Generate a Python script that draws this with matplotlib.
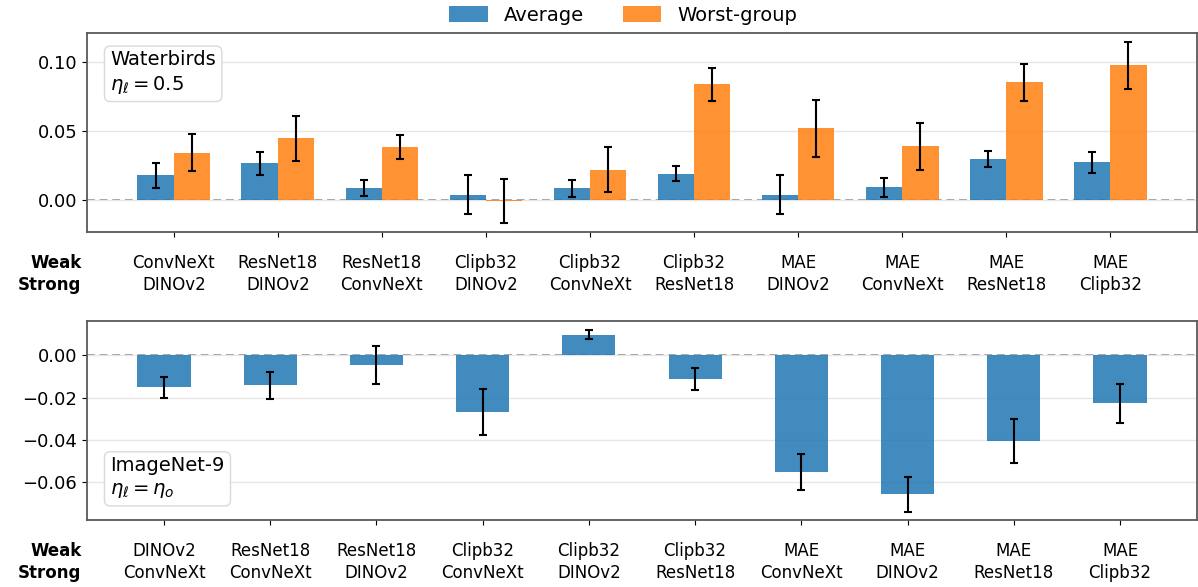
import numpy as np
import matplotlib.pyplot as plt


# Waterbirds (top): weak -> strong pairs
wb_weak = ["ConvNeXt", "ResNet18", "ResNet18", "Clipb32", "Clipb32",
           "Clipb32", "MAE", "MAE", "MAE", "MAE"]
wb_strong = ["DINOv2", "DINOv2", "ConvNeXt", "DINOv2", "ConvNeXt",
             "ResNet18", "DINOv2", "ConvNeXt", "ResNet18", "Clipb32"]
wb_avg = [0.0179, 0.0266, 0.0085, 0.0041, 0.0085, 0.0193, 0.0041, 0.0092, 0.0295, 0.0273]
wb_avg_err = [0.0089, 0.0081, 0.0058, 0.0141, 0.0064, 0.0053, 0.0141, 0.0072, 0.0058, 0.0078]
wb_worst = [0.0345, 0.0447, 0.0382, -0.0005, 0.0222, 0.0838, 0.0519, 0.0389, 0.0852, 0.0976]
wb_worst_err = [0.0137, 0.0165, 0.0087, 0.0162, 0.0160, 0.0122, 0.0204, 0.0173, 0.0135, 0.0169]

# ImageNet-9 (bottom)
in_weak = ["DINOv2", "ResNet18", "ResNet18", "Clipb32", "Clipb32",
           "Clipb32", "MAE", "MAE", "MAE", "MAE"]
in_strong = ["ConvNeXt", "ConvNeXt", "DINOv2", "ConvNeXt", "DINOv2",
             "ResNet18", "ConvNeXt", "DINOv2", "ResNet18", "Clipb32"]
in_avg = [-0.0151, -0.0143, -0.0047, -0.0269, 0.0098, -0.0113, -0.0553, -0.0657, -0.0406, -0.0227]
in_avg_err = [0.0050, 0.0063, 0.0090, 0.0110, 0.0021, 0.0053, 0.0085, 0.0083, 0.0106, 0.0092]

blue = "#1f77b4"
orange = "#ff7f0e"
err_kw = dict(ecolor="black", elinewidth=1.5, capsize=3, capthick=1.5)

fig = plt.figure(figsize=(11.98, 5.87), dpi=100)
ax1 = fig.add_axes([0.0726, 0.6048, 0.9266, 0.339])
ax2 = fig.add_axes([0.0726, 0.1141, 0.9266, 0.339])

# top panel
x = np.arange(len(wb_avg))
w = 0.35
ax1.bar(x - w / 2, wb_avg, w, yerr=wb_avg_err, color=blue, alpha=0.85,
        label="Average", error_kw=err_kw)
ax1.bar(x + w / 2, wb_worst, w, yerr=wb_worst_err, color=orange, alpha=0.85,
        label="Worst-group", error_kw=err_kw)
ax1.set_ylim(-0.023, 0.121)
ax1.set_xticks(x)
ax1.set_xticklabels([a + "\n" + b for a, b in zip(wb_weak, wb_strong)], linespacing=1.35)
ax1.text(0.021, 0.915, "Waterbirds\n$\\eta_\\ell = 0.5$", transform=ax1.transAxes,
         fontsize=14, va="top", ha="left", linespacing=1.3,
         bbox=dict(boxstyle="round,pad=0.3", facecolor="white", edgecolor="0.85"))

# bottom panel
x2 = np.arange(len(in_avg))
ax2.bar(x2, in_avg, 0.5, yerr=in_avg_err, color=blue, alpha=0.85, error_kw=err_kw)
ax2.set_ylim(-0.078, 0.0162)
ax2.set_xticks(x2)
ax2.set_xticklabels([a + "\n" + b for a, b in zip(in_weak, in_strong)], linespacing=1.35)
ax2.text(0.021, 0.1, "ImageNet-9\n$\\eta_\\ell = \\eta_o$", transform=ax2.transAxes,
         fontsize=14, va="bottom", ha="left", linespacing=1.3,
         bbox=dict(boxstyle="round,pad=0.3", facecolor="white", edgecolor="0.85"))

for ax in (ax1, ax2):
    ax.axhline(0, color="0.6", linestyle="--", linewidth=1.4, dashes=(4, 2.5), zorder=0.5)
    ax.yaxis.grid(True, color="0.9", linewidth=1)
    ax.set_axisbelow(True)
    ax.tick_params(axis="y", labelsize=13)
    ax.tick_params(axis="x", labelsize=12, pad=12)
    for s in ax.spines.values():
        s.set_color("0.35")
        s.set_linewidth(1.3)
    ax.annotate("Weak\nStrong", xy=(0, 0), xycoords="axes fraction",
                xytext=(-4, -15.5), textcoords="offset points",
                ha="right", va="top", fontsize=12, fontweight="bold", linespacing=1.35)

fig.legend(loc="upper center", bbox_to_anchor=(0.52, 1.02), ncol=2,
           frameon=False, fontsize=14, columnspacing=2.0, handleheight=0.85)

fig.savefig("out.png", dpi=100)
